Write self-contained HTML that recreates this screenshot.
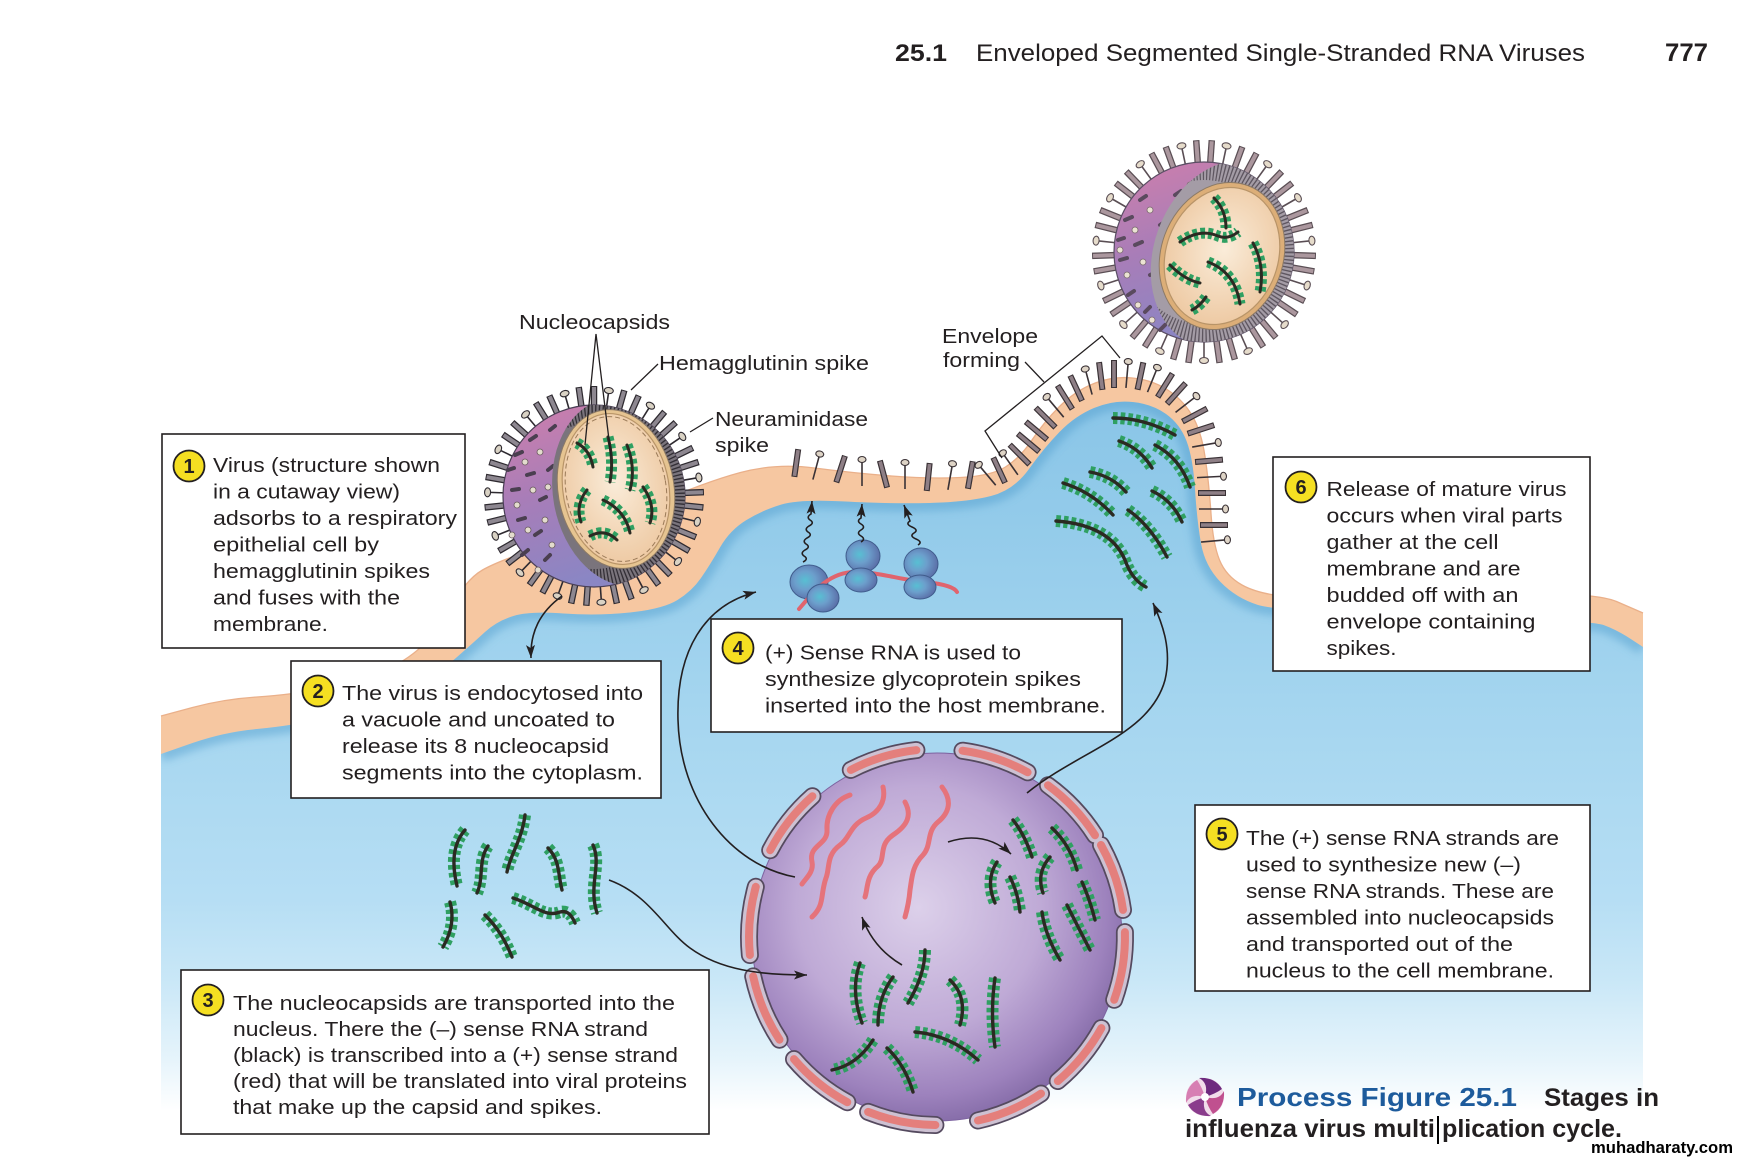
<!DOCTYPE html>
<html><head><meta charset="utf-8"><style>
html,body{margin:0;padding:0;background:#fff}
svg{display:block}
text{font-family:"Liberation Sans",Arial,sans-serif;fill:#231f20}
.t{font-size:20.5px}
.ncG{fill:none;stroke:#2fa062;stroke-width:12;stroke-linecap:butt;stroke-dasharray:4.5 3}
.ncD{fill:none;stroke:#2b2a22;stroke-width:3.4;stroke-linecap:round}
.vG{fill:none;stroke:#2fa062;stroke-width:11;stroke-linecap:butt;stroke-dasharray:4.5 3}
.vD{fill:none;stroke:#2b2a22;stroke-width:3;stroke-linecap:round}
.arr{fill:none;stroke:#231f20;stroke-width:1.6}
.box{fill:#fff;stroke:#231f20;stroke-width:1.6}
.num{fill:#f5df22;stroke:#231f20;stroke-width:1.8}
.nt{font-size:20px;font-weight:700;text-anchor:middle}
</style></head><body>
<svg width="1740" height="1162" viewBox="0 0 1740 1162" xmlns="http://www.w3.org/2000/svg">
<defs>
<linearGradient id="blueG" gradientUnits="userSpaceOnUse" x1="0" y1="380" x2="0" y2="1162">
<stop offset="0" stop-color="#88c4e7"/><stop offset=".18" stop-color="#93cbea"/><stop offset=".41" stop-color="#a4d5ef"/><stop offset=".665" stop-color="#b6def4"/><stop offset=".767" stop-color="#c9e7f7"/><stop offset=".87" stop-color="#e6f4fb"/><stop offset=".935" stop-color="#ffffff"/><stop offset="1" stop-color="#ffffff"/>
</linearGradient>
<radialGradient id="nucG" cx="45%" cy="42%" r="60%"><stop offset="0" stop-color="#dcd0ea"/><stop offset=".55" stop-color="#bfaad6"/><stop offset=".85" stop-color="#9d82bd"/><stop offset="1" stop-color="#836aa6"/></radialGradient>
<linearGradient id="vp" x1="0" y1="0" x2=".35" y2="1"><stop offset="0" stop-color="#d07fab"/><stop offset=".5" stop-color="#a87db8"/><stop offset="1" stop-color="#8a86c4"/></linearGradient>
<radialGradient id="beige" cx="50%" cy="45%" r="55%"><stop offset="0" stop-color="#faecd9"/><stop offset="1" stop-color="#eecaa4"/></radialGradient>
<radialGradient id="rib" cx="40%" cy="45%" r="60%"><stop offset="0" stop-color="#58bfd3"/><stop offset=".45" stop-color="#6c9fcc"/><stop offset="1" stop-color="#5b6fa8"/></radialGradient>
<filter id="bl" x="-10%" y="-10%" width="120%" height="120%"><feGaussianBlur stdDeviation="4"/></filter>
<marker id="ah" markerWidth="14" markerHeight="10" refX="13" refY="5" orient="auto" markerUnits="userSpaceOnUse"><path d="M0,0.5 L13,5 L0,9.5 L3,5 Z" fill="#231f20"/></marker>
<clipPath id="cellClip"><path d="M161,754 L192.5,743 Q224,732 257,729 Q290,726 335,717 Q380,708 410,690 Q440,672 456.5,657.5 Q473,643 485,632 Q497,621 513.5,616 Q530,611 563.5,613.5 Q597,616 630,612.5 Q663,609 677.5,600 Q692,591 701,578 Q710,565 720,547.5 Q730,530 746.5,520 Q763,510 781.5,504.5 Q800,499 845.5,501.5 Q891,504 929.5,503 Q968,502 991,496 Q1014,490 1029,469 Q1044,448 1059.5,432 Q1075,416 1094,408 Q1113,400 1132.5,402 Q1152,404 1166,414 Q1180,424 1186.5,441 Q1193,458 1195,489.5 Q1197,521 1201,543.5 Q1205,566 1220.5,582 Q1236,598 1258,605 Q1280,612 1435,616 Q1590,620 1603.5,625 Q1617,630 1630,638.5 L1643,647 L1643,1162 L161,1162 Z"/></clipPath>
<clipPath id="c1"><circle cx="594" cy="496" r="91"/></clipPath>
<clipPath id="s1"><ellipse cx="623" cy="492" rx="70" ry="95" transform="rotate(-10 623 492)"/></clipPath>
<clipPath id="c2"><circle cx="1204" cy="252" r="90"/></clipPath>
<clipPath id="s2"><ellipse cx="1226" cy="254" rx="72" ry="96" transform="rotate(20 1226 254)"/></clipPath>
<g id="mrod"><line x1="0" y1="12" x2="0" y2="-16" stroke="#3a3236" stroke-width="6"/><line x1="0" y1="11" x2="0" y2="-15" stroke="#8e7f86" stroke-width="3.6"/></g>
<g id="mlol"><line x1="0" y1="12" x2="0" y2="-12" stroke="#3a3236" stroke-width="1.6"/><ellipse cx="0" cy="-14.5" rx="4" ry="3" fill="#ded4c6" stroke="#3a3236" stroke-width="1.1"/></g>
<g id="v1r"><line x1="0" y1="-86" x2="0" y2="-110" stroke="#2e2a30" stroke-width="6.5"/><line x1="0" y1="-86" x2="0" y2="-109" stroke="#8d8790" stroke-width="4"/></g>
<g id="v1l"><line x1="0" y1="-86" x2="0" y2="-104" stroke="#2e2a30" stroke-width="1.6"/><ellipse cx="0" cy="-106.5" rx="4.5" ry="3" fill="#d9d2c4" stroke="#2e2a30" stroke-width="1.1"/></g>
<g id="v2r"><line x1="0" y1="-86" x2="0" y2="-112" stroke="#5a4e54" stroke-width="6.5"/><line x1="0" y1="-86" x2="0" y2="-111" stroke="#ab979e" stroke-width="4"/></g>
<g id="v2l"><line x1="0" y1="-86" x2="0" y2="-106" stroke="#5a4e54" stroke-width="1.6"/><ellipse cx="0" cy="-108.5" rx="4.5" ry="3" fill="#e6dccb" stroke="#5a4e54" stroke-width="1.1"/></g>
<g id="cytoNC">
<path d="M465,830 C452,845 452,865 457,886"/><path d="M488,846 C478,860 484,878 477,893"/><path d="M525,815 C522,840 510,855 507,872"/><path d="M548,848 C560,860 558,875 562,890"/><path d="M593,845 C602,865 588,885 597,913"/><path d="M513,898 C535,905 545,918 560,912 C568,910 572,916 575,923"/><path d="M450,902 C455,920 450,935 443,947"/><path d="M485,915 C498,928 505,940 512,957"/>
<path d="M1113,418 Q1145,418 1175,435"/><path d="M1119,441 Q1140,448 1152,468"/><path d="M1155,445 Q1180,458 1190,487"/><path d="M1090,472 Q1112,476 1126,492"/><path d="M1063,483 Q1092,492 1113,515"/><path d="M1152,491 Q1172,500 1182,522"/><path d="M1128,510 Q1150,525 1167,557"/><path d="M1056,521 Q1110,525 1125,560 Q1132,580 1146,587"/>
</g>
<g id="nucNC">
<path d="M1013,820 Q1025,835 1032,857"/><path d="M1052,828 Q1070,845 1077,870"/><path d="M997,862 Q985,880 995,903"/><path d="M1010,877 Q1018,893 1020,912"/><path d="M1050,857 Q1036,873 1043,893"/><path d="M1082,882 Q1090,900 1095,920"/><path d="M1042,912 Q1045,935 1060,960"/><path d="M1067,905 Q1077,925 1090,950"/>
<path d="M860,963 Q850,990 862,1023"/><path d="M893,977 Q878,997 878,1025"/><path d="M925,950 Q925,975 908,1003"/><path d="M950,980 Q968,997 960,1025"/><path d="M995,978 Q990,1012 995,1047"/><path d="M915,1032 Q950,1035 978,1060"/><path d="M873,1040 Q857,1065 832,1070"/><path d="M887,1048 Q905,1065 913,1092"/>
</g>
<g id="v1NC"><path d="M577,443 Q590,450 593,467"/><path d="M608,437 Q614,460 610,482"/><path d="M627,445 Q636,468 630,490"/><path d="M587,490 Q575,505 581,522"/><path d="M603,500 Q625,510 630,533"/><path d="M643,487 Q656,505 650,523"/><path d="M590,536 Q605,528 617,540"/></g>
<g id="v2NC"><path d="M1214,198 Q1226,210 1226,228"/><path d="M1180,242 Q1200,228 1218,236 Q1228,240 1238,232"/><path d="M1253,243 Q1265,265 1260,292"/><path d="M1208,262 Q1235,272 1240,304"/><path d="M1170,265 Q1185,280 1200,283"/><path d="M1206,297 Q1200,306 1192,310"/></g>
<g id="caps">
<path d="M850.8,769.9 A188,188 0 0 1 916.4,750.1"/><path d="M962.5,750.7 A188,188 0 0 1 1027.6,772.3"/><path d="M1048,785.3 A188,188 0 0 1 1095,835.2"/><path d="M1101,845 A188,188 0 0 1 1123,909.9"/><path d="M1124.9,932.1 A188,188 0 0 1 1114.2,999.8"/><path d="M1101.4,1028.1 A188,188 0 0 1 1057.8,1081"/><path d="M1041,1093.6 A188,188 0 0 1 978,1120.5"/><path d="M935.4,1125 A188,188 0 0 1 868.1,1111.9"/><path d="M847.3,1102.2 A188,188 0 0 1 794,1059.1"/><path d="M779.5,1039.7 A188,188 0 0 1 753.2,976.4"/><path d="M749.9,955 A188,188 0 0 1 755.8,886.8"/><path d="M770.2,850.2 A188,188 0 0 1 812.4,796.2"/>
</g>
</defs>

<!-- membrane / cytoplasm -->
<path fill="#f6c7a1" d="M161,716 L192.5,707.5 Q224,699 257,697 Q290,695 330,687.5 Q370,680 400,662.5 Q430,645 447.5,612.5 Q465,580 482.5,570 Q500,560 547,545 Q594,530 649.5,506 Q705,482 740.5,472.5 Q776,463 814.5,468 Q853,473 891.5,476 Q930,479 960.5,477.5 Q991,476 1005.5,467 Q1020,458 1032,440 Q1044,422 1059.5,406.5 Q1075,391 1094,383.5 Q1113,376 1132.5,378 Q1152,380 1167,389.5 Q1182,399 1191.5,414.5 Q1201,430 1205,456.5 Q1209,483 1211,513.5 Q1213,544 1219.5,560 Q1226,576 1242,585 Q1258,594 1289,597 Q1320,600 1455,595 Q1590,590 1616.5,601.5 L1643,613 L1643,1100 L161,1100 Z"/>
<path fill="none" stroke="#eab08a" stroke-width="1.3" d="M161,716 L192.5,707.5 Q224,699 257,697 Q290,695 330,687.5 Q370,680 400,662.5 Q430,645 447.5,612.5 Q465,580 482.5,570 Q500,560 547,545 Q594,530 649.5,506 Q705,482 740.5,472.5 Q776,463 814.5,468 Q853,473 891.5,476 Q930,479 960.5,477.5 Q991,476 1005.5,467 Q1020,458 1032,440 Q1044,422 1059.5,406.5 Q1075,391 1094,383.5 Q1113,376 1132.5,378 Q1152,380 1167,389.5 Q1182,399 1191.5,414.5 Q1201,430 1205,456.5 Q1209,483 1211,513.5 Q1213,544 1219.5,560 Q1226,576 1242,585 Q1258,594 1289,597 Q1320,600 1455,595 Q1590,590 1616.5,601.5 L1643,613"/>
<rect x="161" y="370" width="1482" height="792" fill="url(#blueG)" clip-path="url(#cellClip)"/>
<g clip-path="url(#cellClip)">
<path fill="none" stroke="#4e9bcd" stroke-opacity=".45" stroke-width="16" filter="url(#bl)" d="M161,754 L192.5,743 Q224,732 257,729 Q290,726 335,717 Q380,708 410,690 Q440,672 456.5,657.5 Q473,643 485,632 Q497,621 513.5,616 Q530,611 563.5,613.5 Q597,616 630,612.5 Q663,609 677.5,600 Q692,591 701,578 Q710,565 720,547.5 Q730,530 746.5,520 Q763,510 781.5,504.5 Q800,499 845.5,501.5 Q891,504 929.5,503 Q968,502 991,496 Q1014,490 1029,469 Q1044,448 1059.5,432 Q1075,416 1094,408 Q1113,400 1132.5,402 Q1152,404 1166,414 Q1180,424 1186.5,441 Q1193,458 1195,489.5 Q1197,521 1201,543.5 Q1205,566 1220.5,582 Q1236,598 1258,605 Q1280,612 1435,616 Q1590,620 1603.5,625 Q1617,630 1630,638.5 L1643,647"/>
</g>

<!-- membrane spikes -->
<use href="#mrod" transform="translate(796,465) rotate(8)"/>
<use href="#mlol" transform="translate(816,468) rotate(15)"/>
<use href="#mrod" transform="translate(840,471) rotate(18)"/>
<use href="#mlol" transform="translate(862,474)"/>
<use href="#mrod" transform="translate(884,476) rotate(-15)"/>
<use href="#mlol" transform="translate(905,477)"/>
<use href="#mrod" transform="translate(928,479) rotate(6)"/>
<use href="#mlol" transform="translate(950,478) rotate(10)"/>
<use href="#mrod" transform="translate(970,477) rotate(10)"/>
<use href="#mlol" transform="translate(988,476) rotate(-40)"/>
<use href="#mrod" transform="translate(1000,472) rotate(-25)"/>
<use href="#mlol" transform="translate(1011,465) rotate(-35)"/>
<use href="#mrod" transform="translate(1021,456) rotate(-45)"/>
<use href="#mrod" transform="translate(1030,444) rotate(-50)"/>
<use href="#mrod" transform="translate(1038,432) rotate(-50)"/>
<use href="#mrod" transform="translate(1047,419) rotate(-45)"/>
<use href="#mlol" transform="translate(1056,408) rotate(-40)"/>
<use href="#mrod" transform="translate(1066,399) rotate(-32)"/>
<use href="#mrod" transform="translate(1077,390) rotate(-25)"/>
<use href="#mlol" transform="translate(1089,383) rotate(-15)"/>
<use href="#mrod" transform="translate(1101,378) rotate(-7)"/>
<use href="#mrod" transform="translate(1114,376)"/>
<use href="#mlol" transform="translate(1127,376) rotate(5)"/>
<use href="#mrod" transform="translate(1140,378) rotate(12)"/>
<use href="#mlol" transform="translate(1152,381) rotate(22)"/>
<use href="#mrod" transform="translate(1164,387) rotate(32)"/>
<use href="#mrod" transform="translate(1175,395) rotate(42)"/>
<use href="#mlol" transform="translate(1185,405) rotate(52)"/>
<use href="#mrod" transform="translate(1193,416) rotate(62)"/>
<use href="#mrod" transform="translate(1199,430) rotate(72)"/>
<use href="#mlol" transform="translate(1204,445) rotate(80)"/>
<use href="#mrod" transform="translate(1207,461) rotate(85)"/>
<use href="#mlol" transform="translate(1209,477) rotate(87)"/>
<use href="#mrod" transform="translate(1210,493) rotate(90)"/>
<use href="#mlol" transform="translate(1211,509) rotate(90)"/>
<use href="#mrod" transform="translate(1212,525) rotate(90)"/>
<use href="#mlol" transform="translate(1213,541) rotate(85)"/>

<!-- cytoplasm nucleocapsids -->
<use href="#cytoNC" class="ncG"/><use href="#cytoNC" class="ncD"/>

<!-- ribosomes -->
<g stroke="#3f5c8c" stroke-width="1">
<ellipse cx="809" cy="582" rx="19" ry="17" fill="url(#rib)"/>
<ellipse cx="863" cy="556" rx="17" ry="16" fill="url(#rib)"/>
<ellipse cx="921" cy="564" rx="17" ry="16" fill="url(#rib)"/>
</g>
<path d="M799,609 C815,590 830,572 855,572 C880,572 900,580 925,582 C945,584 955,588 957,592" fill="none" stroke="#e0646e" stroke-width="4" stroke-linecap="round"/>
<g stroke="#3f5c8c" stroke-width="1">
<ellipse cx="823" cy="598" rx="16" ry="14" fill="url(#rib)"/>
<ellipse cx="861" cy="580" rx="16" ry="12" fill="url(#rib)"/>
<ellipse cx="920" cy="587" rx="16" ry="12" fill="url(#rib)"/>
</g>
<path class="arr" stroke-width="1.4" marker-end="url(#ah)" d="M803,562 q6,-3 1,-6 q-4,-3 1,-6 q6,-3 1,-6 q-4,-3 1,-6 q6,-3 1,-6 q-4,-3 1,-6 q6,-3 1,-6 q-4,-3 1,-6 L812,501"/>
<path class="arr" stroke-width="1.4" marker-end="url(#ah)" d="M861,542 q5,-3 0,-6 q-5,-3 0,-6 q5,-3 0,-6 q-5,-3 0,-6 L862,504"/>
<path class="arr" stroke-width="1.4" marker-end="url(#ah)" d="M918,545 q5,-3 -2,-6 q-7,-3 -2,-6 q5,-3 -2,-6 q-7,-3 -2,-6 L904,505"/>

<!-- nucleus -->
<ellipse cx="937" cy="937" rx="185" ry="184" fill="url(#nucG)" stroke="#7d63a0" stroke-width="1"/>
<use href="#caps" fill="none" stroke="#554a5f" stroke-width="18" stroke-linecap="round"/>
<use href="#caps" fill="none" stroke="#cdc1d2" stroke-width="14.5" stroke-linecap="round"/>
<use href="#caps" fill="none" stroke="#e47f7c" stroke-width="8" stroke-linecap="round"/>
<g fill="none" stroke="#e5737b" stroke-width="5" stroke-linecap="round">
<path d="M850,795 C835,800 826,815 827,830 C828,845 808,845 812,862 C814,872 806,878 802,884"/>
<path d="M883,787 C886,800 880,812 866,818 C850,825 850,838 840,845 C826,855 830,868 826,878 C820,895 825,905 812,917"/>
<path d="M905,802 C912,815 908,825 893,835 C878,845 886,858 878,866 C866,876 868,888 865,897"/>
<path d="M942,787 C952,800 950,812 938,822 C926,832 932,845 923,855 C912,866 912,878 910,890 C909,902 907,910 905,917"/>
</g>
<use href="#nucNC" class="ncG"/><use href="#nucNC" class="ncD"/>
<path class="arr" marker-end="url(#ah)" d="M948,842 Q985,830 1011,854"/>
<path class="arr" marker-end="url(#ah)" d="M902,965 Q873,948 862,917"/>

<!-- virus 1 -->
<g transform="translate(594,496)">
<use href="#v1r" transform="rotate(0)"/><use href="#v1l" transform="rotate(8)"/><use href="#v1r" transform="rotate(16)"/><use href="#v1r" transform="rotate(24)"/><use href="#v1l" transform="rotate(32)"/><use href="#v1r" transform="rotate(40)"/><use href="#v1r" transform="rotate(48)"/><use href="#v1l" transform="rotate(56)"/><use href="#v1r" transform="rotate(64)"/><use href="#v1r" transform="rotate(72)"/><use href="#v1l" transform="rotate(80)"/><use href="#v1r" transform="rotate(88)"/><use href="#v1r" transform="rotate(96)"/><use href="#v1l" transform="rotate(104)"/><use href="#v1r" transform="rotate(112)"/><use href="#v1r" transform="rotate(120)"/><use href="#v1l" transform="rotate(128)"/><use href="#v1r" transform="rotate(136)"/><use href="#v1r" transform="rotate(144)"/><use href="#v1l" transform="rotate(152)"/><use href="#v1r" transform="rotate(160)"/><use href="#v1r" transform="rotate(168)"/><use href="#v1l" transform="rotate(176)"/><use href="#v1r" transform="rotate(184)"/><use href="#v1r" transform="rotate(192)"/><use href="#v1l" transform="rotate(200)"/><use href="#v1r" transform="rotate(208)"/><use href="#v1r" transform="rotate(216)"/><use href="#v1l" transform="rotate(224)"/><use href="#v1r" transform="rotate(232)"/><use href="#v1r" transform="rotate(240)"/><use href="#v1l" transform="rotate(248)"/><use href="#v1r" transform="rotate(256)"/><use href="#v1r" transform="rotate(264)"/><use href="#v1l" transform="rotate(272)"/><use href="#v1r" transform="rotate(280)"/><use href="#v1r" transform="rotate(288)"/><use href="#v1l" transform="rotate(296)"/><use href="#v1r" transform="rotate(304)"/><use href="#v1r" transform="rotate(312)"/><use href="#v1l" transform="rotate(320)"/><use href="#v1r" transform="rotate(328)"/><use href="#v1r" transform="rotate(336)"/><use href="#v1l" transform="rotate(344)"/><use href="#v1r" transform="rotate(352)"/>
</g>
<circle cx="594" cy="496" r="91" fill="url(#vp)" stroke="#4a3f55" stroke-width="1.2"/>
<g stroke="#4a3f50" stroke-width="4" stroke-linecap="round">
<line x1="515" y1="455" x2="522" y2="452"/><line x1="530" y1="440" x2="536" y2="436"/><line x1="512" y1="490" x2="519" y2="489"/><line x1="527" y1="475" x2="534" y2="473"/><line x1="540" y1="500" x2="546" y2="497"/><line x1="518" y1="520" x2="525" y2="518"/><line x1="535" y1="535" x2="541" y2="531"/><line x1="548" y1="470" x2="553" y2="466"/><line x1="522" y1="555" x2="528" y2="550"/><line x1="545" y1="560" x2="550" y2="555"/><line x1="508" y1="470" x2="514" y2="468"/><line x1="550" y1="430" x2="555" y2="426"/>
</g>
<g fill="#e3dccd" stroke="#6a5a60" stroke-width=".8">
<circle cx="525" cy="462" r="3"/><circle cx="540" cy="452" r="3"/><circle cx="517" cy="505" r="3"/><circle cx="533" cy="490" r="3"/><circle cx="528" cy="530" r="3"/><circle cx="545" cy="520" r="3"/><circle cx="538" cy="570" r="3"/><circle cx="552" cy="545" r="3"/><circle cx="512" cy="535" r="3"/><circle cx="548" cy="487" r="3"/>
</g>
<g clip-path="url(#c1)"><g clip-path="url(#s1)">
<rect x="500" y="400" width="200" height="200" fill="#7a747c"/>
<circle cx="594" cy="496" r="83" fill="none" stroke="#332f36" stroke-width="20" stroke-dasharray="1.3 2.2"/>
</g></g>
<ellipse cx="616" cy="489" rx="58" ry="80" transform="rotate(-10 616 489)" fill="#e6c491" stroke="#8c7a66" stroke-width="1"/>
<ellipse cx="616" cy="489" rx="53" ry="76" transform="rotate(-10 616 489)" fill="url(#beige)" stroke="#b89468" stroke-width="1.2"/>
<ellipse cx="616" cy="489" rx="50" ry="73" transform="rotate(-10 616 489)" fill="none" stroke="#9a7a58" stroke-width="1" stroke-dasharray="5 3"/>
<use href="#v1NC" class="vG"/><use href="#v1NC" class="vD"/>

<!-- virus 2 -->
<g transform="translate(1204,252)">
<use href="#v2r" transform="rotate(4)"/><use href="#v2l" transform="rotate(12)"/><use href="#v2r" transform="rotate(20)"/><use href="#v2r" transform="rotate(28)"/><use href="#v2l" transform="rotate(36)"/><use href="#v2r" transform="rotate(44)"/><use href="#v2r" transform="rotate(52)"/><use href="#v2l" transform="rotate(60)"/><use href="#v2r" transform="rotate(68)"/><use href="#v2r" transform="rotate(76)"/><use href="#v2l" transform="rotate(84)"/><use href="#v2r" transform="rotate(92)"/><use href="#v2r" transform="rotate(100)"/><use href="#v2l" transform="rotate(108)"/><use href="#v2r" transform="rotate(116)"/><use href="#v2r" transform="rotate(124)"/><use href="#v2l" transform="rotate(132)"/><use href="#v2r" transform="rotate(140)"/><use href="#v2r" transform="rotate(148)"/><use href="#v2l" transform="rotate(156)"/><use href="#v2r" transform="rotate(164)"/><use href="#v2r" transform="rotate(172)"/><use href="#v2l" transform="rotate(180)"/><use href="#v2r" transform="rotate(188)"/><use href="#v2r" transform="rotate(196)"/><use href="#v2l" transform="rotate(204)"/><use href="#v2r" transform="rotate(212)"/><use href="#v2r" transform="rotate(220)"/><use href="#v2l" transform="rotate(228)"/><use href="#v2r" transform="rotate(236)"/><use href="#v2r" transform="rotate(244)"/><use href="#v2l" transform="rotate(252)"/><use href="#v2r" transform="rotate(260)"/><use href="#v2r" transform="rotate(268)"/><use href="#v2l" transform="rotate(276)"/><use href="#v2r" transform="rotate(284)"/><use href="#v2r" transform="rotate(292)"/><use href="#v2l" transform="rotate(300)"/><use href="#v2r" transform="rotate(308)"/><use href="#v2r" transform="rotate(316)"/><use href="#v2l" transform="rotate(324)"/><use href="#v2r" transform="rotate(332)"/><use href="#v2r" transform="rotate(340)"/><use href="#v2l" transform="rotate(348)"/><use href="#v2r" transform="rotate(356)"/>
</g>
<circle cx="1204" cy="252" r="90" fill="url(#vp)" stroke="#5a4e64" stroke-width="1.2"/>
<g stroke="#5a4a5e" stroke-width="4" stroke-linecap="round">
<line x1="1125" y1="220" x2="1132" y2="217"/><line x1="1140" y1="200" x2="1146" y2="196"/><line x1="1120" y1="260" x2="1127" y2="258"/><line x1="1135" y1="245" x2="1142" y2="242"/><line x1="1150" y1="275" x2="1156" y2="272"/><line x1="1128" y1="295" x2="1134" y2="291"/><line x1="1145" y1="312" x2="1150" y2="307"/><line x1="1160" y1="225" x2="1166" y2="221"/><line x1="1175" y1="195" x2="1181" y2="191"/><line x1="1118" y1="240" x2="1124" y2="238"/><line x1="1160" y1="330" x2="1165" y2="325"/>
</g>
<g fill="#ebe3d2" stroke="#7a6a70" stroke-width=".8">
<circle cx="1135" cy="230" r="3"/><circle cx="1150" cy="210" r="3"/><circle cx="1127" cy="275" r="3"/><circle cx="1143" cy="262" r="3"/><circle cx="1138" cy="305" r="3"/><circle cx="1158" cy="295" r="3"/><circle cx="1165" cy="245" r="3"/><circle cx="1190" cy="185" r="3"/><circle cx="1152" cy="320" r="3"/><circle cx="1120" cy="250" r="3"/>
</g>
<g clip-path="url(#c2)"><g clip-path="url(#s2)">
<rect x="1100" y="150" width="210" height="210" fill="#a49ca6"/>
<circle cx="1204" cy="252" r="82" fill="none" stroke="#5e5660" stroke-width="20" stroke-dasharray="1.3 2.2"/>
</g></g>
<ellipse cx="1222" cy="256" rx="61" ry="75" transform="rotate(20 1222 256)" fill="#dcae78" stroke="#8c7a66" stroke-width="1"/>
<ellipse cx="1222" cy="256" rx="56" ry="70" transform="rotate(20 1222 256)" fill="url(#beige)" stroke="#b89468" stroke-width="1.2"/>
<use href="#v2NC" class="vG"/><use href="#v2NC" class="vD"/>

<!-- connector arrows -->
<path class="arr" marker-end="url(#ah)" d="M562,596 C540,612 530,632 531,658"/>
<path class="arr" marker-end="url(#ah)" d="M795,877 C730,865 680,800 678,720 C676,650 705,605 756,592"/>
<path class="arr" marker-end="url(#ah)" d="M1027,793 C1080,750 1150,735 1165,680 C1172,650 1163,625 1153,603"/>
<path class="arr" marker-end="url(#ah)" d="M609,880 C650,895 665,930 690,948 C720,970 760,975 807,975"/>

<!-- leader lines -->
<g fill="none" stroke="#231f20" stroke-width="1.3">
<path d="M596,334 L585,445 M596,334 L611,456"/>
<path d="M658,364 L631,390"/>
<path d="M713,418 L690,432"/>
<polyline points="1002,458 985,431 1102,336 1120,358"/>
<path d="M1025,362 L1044,382"/>
</g>

<!-- labels -->
<text class="t" x="519" y="329" textLength="151" lengthAdjust="spacingAndGlyphs">Nucleocapsids</text>
<text class="t" x="659" y="370" textLength="210" lengthAdjust="spacingAndGlyphs">Hemagglutinin spike</text>
<text class="t" x="715" y="426" textLength="153" lengthAdjust="spacingAndGlyphs">Neuraminidase</text>
<text class="t" x="715" y="452" textLength="54" lengthAdjust="spacingAndGlyphs">spike</text>
<text class="t" x="942" y="343" textLength="96" lengthAdjust="spacingAndGlyphs">Envelope</text>
<text class="t" x="943" y="367" textLength="77" lengthAdjust="spacingAndGlyphs">forming</text>

<!-- boxes -->
<rect class="box" x="162" y="434" width="303" height="214"/>
<rect class="box" x="291" y="661" width="370" height="137"/>
<rect class="box" x="181" y="970" width="528" height="164"/>
<rect class="box" x="711" y="619" width="411" height="113"/>
<rect class="box" x="1195" y="805" width="395" height="186"/>
<rect class="box" x="1273" y="457" width="317" height="214"/>

<circle class="num" cx="189" cy="466" r="15.5"/><text class="nt" x="189" y="473">1</text>
<circle class="num" cx="318" cy="691" r="15.5"/><text class="nt" x="318" y="698">2</text>
<circle class="num" cx="208" cy="1000" r="15.5"/><text class="nt" x="208" y="1007">3</text>
<circle class="num" cx="738" cy="648" r="15.5"/><text class="nt" x="738" y="655">4</text>
<circle class="num" cx="1222" cy="834" r="15.5"/><text class="nt" x="1222" y="841">5</text>
<circle class="num" cx="1301" cy="487" r="15.5"/><text class="nt" x="1301" y="494">6</text>

<g class="t">
<text class="t" x="213" y="472" textLength="227" lengthAdjust="spacingAndGlyphs">Virus (structure shown</text>
<text class="t" x="213" y="498.5" textLength="187" lengthAdjust="spacingAndGlyphs">in a cutaway view)</text>
<text class="t" x="213" y="525" textLength="244" lengthAdjust="spacingAndGlyphs">adsorbs to a respiratory</text>
<text class="t" x="213" y="551.5" textLength="166" lengthAdjust="spacingAndGlyphs">epithelial cell by</text>
<text class="t" x="213" y="578" textLength="217" lengthAdjust="spacingAndGlyphs">hemagglutinin spikes</text>
<text class="t" x="213" y="604.5" textLength="187" lengthAdjust="spacingAndGlyphs">and fuses with the</text>
<text class="t" x="213" y="631" textLength="115" lengthAdjust="spacingAndGlyphs">membrane.</text>

<text class="t" x="342" y="700" textLength="301" lengthAdjust="spacingAndGlyphs">The virus is endocytosed into</text>
<text class="t" x="342" y="726.5" textLength="273" lengthAdjust="spacingAndGlyphs">a vacuole and uncoated to</text>
<text class="t" x="342" y="753" textLength="267" lengthAdjust="spacingAndGlyphs">release its 8 nucleocapsid</text>
<text class="t" x="342" y="779.5" textLength="301" lengthAdjust="spacingAndGlyphs">segments into the cytoplasm.</text>

<text class="t" x="233" y="1010" textLength="442" lengthAdjust="spacingAndGlyphs">The nucleocapsids are transported into the</text>
<text class="t" x="233" y="1036" textLength="415" lengthAdjust="spacingAndGlyphs">nucleus. There the (–) sense RNA strand</text>
<text class="t" x="233" y="1062" textLength="445" lengthAdjust="spacingAndGlyphs">(black) is transcribed into a (+) sense strand</text>
<text class="t" x="233" y="1088" textLength="454" lengthAdjust="spacingAndGlyphs">(red) that will be translated into viral proteins</text>
<text class="t" x="233" y="1114" textLength="369" lengthAdjust="spacingAndGlyphs">that make up the capsid and spikes.</text>

<text class="t" x="765" y="659.5" textLength="256" lengthAdjust="spacingAndGlyphs">(+) Sense RNA is used to</text>
<text class="t" x="765" y="686" textLength="316" lengthAdjust="spacingAndGlyphs">synthesize glycoprotein spikes</text>
<text class="t" x="765" y="712.5" textLength="341" lengthAdjust="spacingAndGlyphs">inserted into the host membrane.</text>

<text class="t" x="1246" y="845" textLength="313" lengthAdjust="spacingAndGlyphs">The (+) sense RNA strands are</text>
<text class="t" x="1246" y="871.5" textLength="275" lengthAdjust="spacingAndGlyphs">used to synthesize new (–)</text>
<text class="t" x="1246" y="898" textLength="308" lengthAdjust="spacingAndGlyphs">sense RNA strands. These are</text>
<text class="t" x="1246" y="924.5" textLength="308" lengthAdjust="spacingAndGlyphs">assembled into nucleocapsids</text>
<text class="t" x="1246" y="951" textLength="267" lengthAdjust="spacingAndGlyphs">and transported out of the</text>
<text class="t" x="1246" y="977.5" textLength="308" lengthAdjust="spacingAndGlyphs">nucleus to the cell membrane.</text>

<text class="t" x="1326.5" y="496" textLength="240" lengthAdjust="spacingAndGlyphs">Release of mature virus</text>
<text class="t" x="1326.5" y="522.5" textLength="236" lengthAdjust="spacingAndGlyphs">occurs when viral parts</text>
<text class="t" x="1326.5" y="549" textLength="172" lengthAdjust="spacingAndGlyphs">gather at the cell</text>
<text class="t" x="1326.5" y="575.5" textLength="194" lengthAdjust="spacingAndGlyphs">membrane and are</text>
<text class="t" x="1326.5" y="602" textLength="192" lengthAdjust="spacingAndGlyphs">budded off with an</text>
<text class="t" x="1326.5" y="628.5" textLength="209" lengthAdjust="spacingAndGlyphs">envelope containing</text>
<text class="t" x="1326.5" y="655" textLength="70" lengthAdjust="spacingAndGlyphs">spikes.</text>
</g>

<!-- header -->
<text x="895" y="61" font-size="24" font-weight="700" textLength="52" lengthAdjust="spacingAndGlyphs">25.1</text>
<text x="976" y="61" font-size="24" textLength="609" lengthAdjust="spacingAndGlyphs">Enveloped Segmented Single-Stranded RNA Viruses</text>
<text x="1665" y="61" font-size="25" font-weight="700" textLength="43" lengthAdjust="spacingAndGlyphs">777</text>

<!-- caption -->
<g transform="translate(1205,1097)">
<circle r="19" fill="#f1dcea"/>
<path d="M0,0 Q4,-14 -6,-19 Q10,-20 17,-8 Q10,-3 0,0 Z" fill="#6e2a7e"/>
<path d="M0,0 Q4,-14 -6,-19 Q10,-20 17,-8 Q10,-3 0,0 Z" fill="#c0508f" transform="rotate(90)"/>
<path d="M0,0 Q4,-14 -6,-19 Q10,-20 17,-8 Q10,-3 0,0 Z" fill="#8a3c8c" transform="rotate(180)"/>
<path d="M0,0 Q4,-14 -6,-19 Q10,-20 17,-8 Q10,-3 0,0 Z" fill="#d77fb3" transform="rotate(270)"/>
<circle r="4" fill="#fff"/>
</g>
<text x="1237" y="1106" font-size="26" font-weight="700" fill="#1d5b9c" style="fill:#1d5b9c" textLength="280" lengthAdjust="spacingAndGlyphs">Process Figure 25.1</text>
<text x="1544" y="1106" font-size="25" font-weight="700" textLength="115" lengthAdjust="spacingAndGlyphs">Stages in</text>
<text x="1185" y="1137" font-size="25" font-weight="700" textLength="250" lengthAdjust="spacingAndGlyphs">influenza virus multi</text>
<line x1="1438" y1="1116" x2="1438" y2="1144" stroke="#000" stroke-width="2"/>
<text x="1442" y="1137" font-size="25" font-weight="700" textLength="180" lengthAdjust="spacingAndGlyphs">plication cycle.</text>
<text x="1591" y="1153" font-size="17" font-weight="700" fill="#000" style="fill:#000" textLength="142" lengthAdjust="spacingAndGlyphs">muhadharaty.com</text>
</svg>
</body></html>
